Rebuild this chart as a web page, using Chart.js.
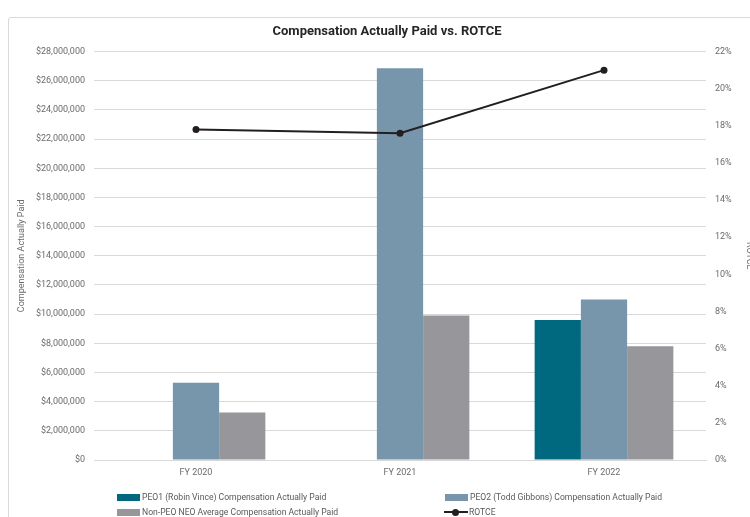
<!DOCTYPE html>
<html>
<head>
<meta charset="utf-8">
<script src="https://cdn.jsdelivr.net/npm/chart.js@4.4.1/dist/chart.umd.min.js"></script>
<style>
  html, body { margin: 0; padding: 0; background: #fff; width: 750px; height: 517px; overflow: hidden; }
  #frame { position: absolute; left: 8px; top: 17px; width: 780px; height: 540px; border: 1px solid #d9d9d9; border-radius: 3px; box-sizing: border-box; }
  #wrap { position: absolute; left: 8px; top: 17px; width: 758px; height: 468px; }
  #legend { position: absolute; left: 0; top: 0; width: 750px; height: 517px; font-family: Roboto, sans-serif; font-size: 8.6px; color: #595959; pointer-events: none; }
  .item { position: absolute; display: flex; align-items: center; white-space: nowrap; height: 12px; transform: translateY(-6px); }
  .swatch { width: 23px; height: 7px; margin-right: 2px; }
  .lineMark { position: relative; width: 24px; height: 12px; margin-right: 1px; }
  .lineMark .bar { position: absolute; left: 0; right: 0; top: 5px; height: 2px; }
  .lineMark .dot { position: absolute; left: 8px; top: 2.5px; width: 7px; height: 7px; border-radius: 50%; }
</style>
</head>
<body>
<div id="frame"></div>
<div id="wrap"><canvas id="chart"></canvas></div>
<div id="legend"></div>
<script>
// Fiscal years on the category axis
const years = ['FY 2020', 'FY 2021', 'FY 2022'];

// Compensation actually paid (USD)
const peo1Comp = [null, null, 9600000];
const peo2Comp = [5300000, 26850000, 11000000];
const nonPeoComp = [3250000, 9900000, 7800000];

// Return on tangible common equity (%)
const rotce = [17.8, 17.6, 21.0];

// Axis ranges
const compMax = 28000000;
const compStep = 2000000;
const rotceMax = 22;
const rotceStep = 2;

const seriesNames = [
  'PEO1 (Robin Vince) Compensation Actually Paid',
  'PEO2 (Todd Gibbons) Compensation Actually Paid',
  'Non-PEO NEO Average Compensation Actually Paid',
  'ROTCE'
];

const gridColor = '#d9d9d9';
const tickColor = '#6b6b6b';
const fontFamily = 'Roboto, sans-serif';

const chart = new Chart(document.getElementById('chart'), {
  type: 'bar',
  data: {
    labels: years,
    datasets: [
      { label: seriesNames[3], type: 'line', data: rotce, yAxisID: 'y1', order: 0,
        borderColor: '#231f20', backgroundColor: '#231f20', borderWidth: 2,
        pointRadius: 3.5, pointBackgroundColor: '#231f20', pointBorderWidth: 0, tension: 0 },
      { label: seriesNames[0], data: peo1Comp, backgroundColor: '#00687f', yAxisID: 'y', order: 1 },
      { label: seriesNames[1], data: peo2Comp, backgroundColor: '#7796ab', yAxisID: 'y', order: 1 },
      { label: seriesNames[2], data: nonPeoComp, backgroundColor: '#97979b', yAxisID: 'y', order: 1 }
    ]
  },
  options: {
    responsive: true,
    maintainAspectRatio: false,
    animation: false,
    devicePixelRatio: 1,
    layout: { padding: { left: 0, right: 0, top: 0, bottom: 5 } },
    datasets: { bar: { categoryPercentage: 0.68, barPercentage: 1.0 } },
    plugins: {
      legend: { display: false },
      tooltip: { enabled: false },
      title: {
        display: true,
        text: 'Compensation Actually Paid vs. ROTCE',
        color: '#262626',
        font: { family: fontFamily, size: 13, weight: 'bold' },
        padding: { top: 7, bottom: 12 }
      }
    },
    scales: {
      x: {
        grid: { display: false, drawTicks: false },
        border: { display: true, color: gridColor },
        ticks: { color: tickColor, font: { family: fontFamily, size: 9 }, padding: 7 },
        afterFit: s => { s.height = 20; }
      },
      y: {
        position: 'left',
        min: 0, max: compMax,
        grid: { color: gridColor, drawTicks: false },
        border: { display: false },
        ticks: {
          stepSize: compStep, padding: 9, color: tickColor,
          font: { family: fontFamily, size: 9 },
          callback: v => '$' + Number(v).toLocaleString('en-US')
        },
        title: {
          display: true, text: 'Compensation Actually Paid', color: tickColor,
          font: { family: fontFamily, size: 9 }, padding: { top: 8, bottom: 0 }
        },
        afterFit: s => { s.width = 86; }
      },
      y1: {
        position: 'right',
        min: 0, max: rotceMax,
        grid: { display: false, drawTicks: false },
        border: { display: false },
        ticks: {
          stepSize: rotceStep, padding: 9, color: tickColor,
          font: { family: fontFamily, size: 9 },
          callback: v => v + '%'
        },
        title: {
          display: true, text: 'ROTCE', color: tickColor,
          font: { family: fontFamily, size: 9 }, padding: { top: 11, bottom: 0 }
        },
        afterFit: s => { s.width = 60; }
      }
    }
  }
});

// Two-column legend under the plot
const legendSlots = [
  { ds: 1, left: 117, top: 497 },
  { ds: 2, left: 445, top: 497 },
  { ds: 3, left: 117, top: 512 },
  { ds: 0, left: 444, top: 512 }
];
const legendEl = document.getElementById('legend');
legendSlots.forEach(slot => {
  const ds = chart.data.datasets[slot.ds];
  const item = document.createElement('div');
  item.className = 'item';
  item.style.left = slot.left + 'px';
  item.style.top = slot.top + 'px';
  if (ds.type === 'line') {
    const m = document.createElement('span');
    m.className = 'lineMark';
    m.innerHTML = '<span class="bar" style="background:' + ds.borderColor + '"></span>' +
                  '<span class="dot" style="background:' + ds.borderColor + '"></span>';
    item.appendChild(m);
  } else {
    const sw = document.createElement('span');
    sw.className = 'swatch';
    sw.style.background = ds.backgroundColor;
    item.appendChild(sw);
  }
  const t = document.createElement('span');
  t.textContent = ds.label;
  item.appendChild(t);
  legendEl.appendChild(item);
});
</script>
</body>
</html>
